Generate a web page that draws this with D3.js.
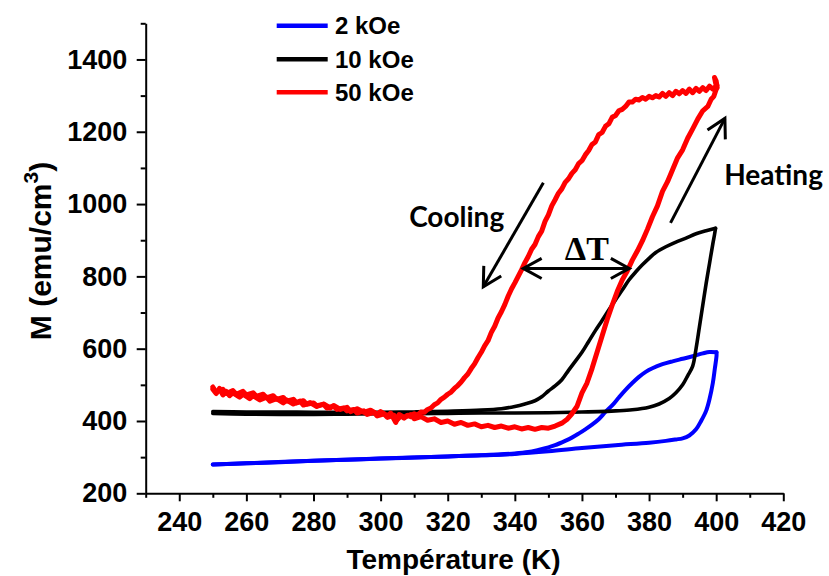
<!DOCTYPE html>
<html><head><meta charset="utf-8">
<script src="https://cdn.jsdelivr.net/npm/d3@7"></script>
<style>
html,body{margin:0;padding:0;background:#fff;}
svg{display:block;}
</style></head>
<body>
<svg id="c" width="829" height="576"></svg>
<script>
// ---- data (T in K, M in emu/cm3) ----
const xTicks = [240,260,280,300,320,340,360,380,400,420];
const xMinor = [230,250,270,290,310,330,350,370,390,410];
const yTicks = [200,400,600,800,1000,1200,1400];
const yMinor = [300,500,700,900,1100,1300,1500];
const seriesNames = ["2 kOe","10 kOe","50 kOe"];
const seriesColors = ["#0000ff","#000000","#ff0000"];

const blueHeat = [[250,280],[260,283],[270,286],[280,290],[290,293],[300,296],[310,299],[320,302],[330,305],[340,309],[350,316],[360,325],[370,333],[380,340],[385,345],[388,349],[390,352],[392,360],[394,377],[395.5,400],[397,428],[398,460],[399,505],[399.6,545],[400.1,580],[400.1,590]];
const blueCool = [[400.1,590],[398,591],[396,587],[393,579],[390,572],[387,565],[384,557],[381,546],[379,536],[377,522],[375,505],[373,486],[371,465],[369,443],[367,425],[365,405],[363,390],[361,377],[359,365],[357,354],[355,345],[352,333],[350,327],[347,320],[344,314],[340,310],[330,305],[320,302],[310,299],[300,296],[280,290],[260,283],[250,280]];

const blackHeat = [[250,421],[260,419],[270,418],[280,418],[290,419],[300,420],[310,420],[320,421],[330,422],[340,422],[350,423],[360,425],[365,426],[370,428],[375,431],[380,438],[383,447],[386,462],[388,478],[390,500],[391.5,525],[393,552],[394,600],[395,660],[396,720],[397,780],[398,835],[399,890],[399.5,915],[399.8,933]];
const blackCool = [[399.8,933],[397,926],[394,918],[391,906],[388,895],[385,882],[382,866],[380,850],[378,832],[376,812],[374,790],[372,762],[370,735],[368,707],[366,678],[364,650],[362,620],[360,590],[358,565],[356,540],[354,514],[352,497],[350,483],[348,467],[346,456],[343,447],[340,440],[336,434],[330,430],[320,427],[310,425],[300,424],[290,424],[280,424],[270,425],[260,425],[250,426]];

const redHeat = [[250,488],[251,476],[252,490],[253,472],[254,482],[255,470],[256,478],[258,466],[259,474],[261,462],[262,470],[264,458],[266,466],[267,455],[269,462],[271,450],[272,458],[274,447],[276,455],[277,444],[279,451],[281,440],[283,447],[285,436],[286,443],[288,432],[290,438],[291,426],[293,434],[295,424],[297,430],[299,419],[300,426],[302,414],[303,422],[304.5,396],[305.5,418],[307,410],[309,418],[310,406],[312,412],[314,402],[316,406],[318,396],[320,400],[322,391],[324,396],[326,388],[328,392],[330,384],[332,388],[334,382],[336,386],[338,380],[340,384],[342,378],[344,382],[346,377],[348,382],[350,380],[352,386],[354,394],[355.5,404],[357,420],[358.5,440],[360,478],[361.5,505],[363,545],[364.5,590],[366,635],[367.5,680],[369,720],[370.5,758],[372,790],[373.5,815],[375,845],[376.5,870],[378,898],[379.5,930],[381,965],[382.5,995],[384,1035],[385.5,1062],[387,1095],[388.5,1128],[390,1150],[391.5,1182],[393,1208],[394.5,1235],[396,1258],[397.5,1270],[398.5,1290],[399.3,1298],[399.9,1315],[400.3,1322],[399.8,1336],[399.5,1350],[400,1340],[400.2,1328]];
const redCool = [[400.2,1328],[399,1318],[398,1326],[397,1314],[396,1322],[395,1312],[394,1320],[393,1308],[392,1318],[391,1306],[390,1314],[389,1305],[388,1312],[387,1300],[386,1308],[385,1298],[384,1306],[383,1296],[382,1300],[381,1294],[380,1298],[379,1290],[378,1295],[377,1288],[376,1290],[375,1282],[374,1282],[373,1270],[372,1262],[371,1258],[370,1245],[369,1240],[368,1222],[367,1215],[366,1198],[365,1192],[364,1172],[363,1165],[362,1148],[361,1136],[360,1120],[359,1112],[358,1095],[357,1085],[356,1070],[355,1060],[354,1042],[353,1030],[352,1012],[351,995],[350,970],[349,952],[348,925],[347,910],[346,888],[345,875],[344,855],[343,838],[342,818],[341,800],[340,782],[339,765],[338,745],[337,722],[336,702],[335,685],[334,662],[333,645],[332,622],[331,608],[330,590],[329,575],[328,558],[327,545],[326,530],[325,520],[324,508],[323,498],[322,490],[321,480],[320,474],[319,466],[318,460],[317,450],[316,445],[315,436],[314,432],[313,424],[312,425],[311,416],[310,420],[309,412],[308,416],[307,408],[306,414],[305,404],[304,416],[302,410],[301,420],[299,414],[298,424],[296,418],[295,428],[293,422],[292,432],[290,428],[289,436],[287,432],[286,441],[284,436],[283,446],[281,442],[280,450],[278,446],[277,456],[275,450],[274,460],[272,455],[271,465],[269,460],[268,470],[266,464],[265,474],[263,468],[262,478],[260,472],[259,482],[257,474],[256,484],[254,476],[253,488],[251,480],[250,494]];

// annotation anchors in data coordinates
const coolArrow = [[348.5,1059],[330.6,771]];
const heatArrow = [[386.4,948],[402.6,1237]];
const deltaArrow = [[342.5,822],[374.1,822]];
const labels = [
  {text:"Cooling", T:308.5, M:937, size:28},
  {text:"Heating", T:402.4, M:1052, size:28}
];
const deltaLabel = {text:"\u0394T", T:354.9, M:845};

// ---- drawing ----
const svg = d3.select("#c");
const x = d3.scaleLinear().domain([230,420]).range([145.7,783.3]);
const y = d3.scaleLinear().domain([200,1500]).range([493.3,23.3]);
const FONT = "'Liberation Sans', Arial, sans-serif";

const smooth = d3.line().x(d=>x(d[0])).y(d=>y(d[1])).curve(d3.curveCatmullRom.alpha(0.5));
const raw = d3.line().x(d=>x(d[0])).y(d=>y(d[1]));

function drawSeries(data,color,width,gen){
  svg.append("path").datum(data).attr("d",gen)
    .attr("fill","none").attr("stroke",color).attr("stroke-width",width)
    .attr("stroke-linejoin","round").attr("stroke-linecap","round");
}
drawSeries(blueHeat,seriesColors[0],4,smooth);
drawSeries(blueCool,seriesColors[0],4,smooth);
drawSeries(blackHeat,seriesColors[1],3.6,smooth);
drawSeries(blackCool,seriesColors[1],3.6,smooth);
drawSeries(redHeat,seriesColors[2],5,raw);
drawSeries(redCool,seriesColors[2],5,raw);

// axes
const gx = svg.append("g").attr("transform",`translate(0,${y(200)})`);
gx.call(d3.axisBottom(x).tickValues(xTicks).tickSize(8).tickSizeOuter(0).tickPadding(10.7).tickFormat(d3.format("d")));
const gxm = svg.append("g").attr("transform",`translate(0,${y(200)})`);
gxm.call(d3.axisBottom(x).tickValues(xMinor).tickSize(4.5).tickFormat(""));
gxm.select(".domain").remove();

const gy = svg.append("g").attr("transform",`translate(${x(230)},0)`);
gy.call(d3.axisLeft(y).tickValues(yTicks).tickSize(9).tickSizeOuter(0).tickPadding(9.4).tickFormat(d3.format("d")));
const gym = svg.append("g").attr("transform",`translate(${x(230)},0)`);
gym.call(d3.axisLeft(y).tickValues(yMinor).tickSize(5).tickFormat(""));
gym.select(".domain").remove();

svg.selectAll(".domain").attr("stroke","#000").attr("stroke-width",2);
svg.selectAll(".tick line").attr("stroke","#000").attr("stroke-width",2);
svg.selectAll(".tick text").attr("font-family",FONT).attr("font-weight","bold").attr("font-size",27).attr("fill","#000");

// axis titles
svg.append("text").attr("x",453.5).attr("y",569).attr("text-anchor","middle")
  .attr("font-family",FONT).attr("font-weight","bold").attr("font-size",28).text("Température (K)");
const yt = svg.append("text").attr("transform","translate(51,251) rotate(-90)").attr("text-anchor","middle")
  .attr("font-family",FONT).attr("font-weight","bold").attr("font-size",30);
yt.append("tspan").text("M (emu/cm");
yt.append("tspan").attr("font-size",21).attr("dy",-13).text("3");
yt.append("tspan").attr("dy",13).text(")");

// legend
const legendY = [25.7,59.3,92.3];
seriesNames.forEach((n,i)=>{
  svg.append("line").attr("x1",276.7).attr("x2",327.7).attr("y1",legendY[i]).attr("y2",legendY[i])
    .attr("stroke",seriesColors[i]).attr("stroke-width",4.5);
  svg.append("text").attr("x",335).attr("y",legendY[i]+8.5)
    .attr("font-family",FONT).attr("font-weight","bold").attr("font-size",24).text(n);
});

// annotations
function arrow(p0,p1,heads){
  const a=[x(p0[0]),y(p0[1])], b=[x(p1[0]),y(p1[1])];
  svg.append("line").attr("x1",a[0]).attr("y1",a[1]).attr("x2",b[0]).attr("y2",b[1])
    .attr("stroke","#000").attr("stroke-width",3);
  const head=(tip,from)=>{
    const ang=Math.atan2(from[1]-tip[1],from[0]-tip[0]);
    const L=21, s=0.5;
    const pts=[[tip[0]+L*Math.cos(ang+s),tip[1]+L*Math.sin(ang+s)],tip,[tip[0]+L*Math.cos(ang-s),tip[1]+L*Math.sin(ang-s)]];
    svg.append("path").attr("d",d3.line()(pts)).attr("fill","none").attr("stroke","#000")
      .attr("stroke-width",3).attr("stroke-linejoin","miter");
  };
  head(b,a);
  if(heads===2) head(a,b);
}
arrow(coolArrow[0],coolArrow[1],1);
arrow(heatArrow[0],heatArrow[1],1);
arrow(deltaArrow[0],deltaArrow[1],2);

labels.forEach(l=>{
  svg.append("text").attr("x",x(l.T)).attr("y",y(l.M)).attr("font-family","Lato, 'Open Sans', sans-serif")
    .attr("font-weight","bold").attr("font-size",l.size).text(l.text);
});
svg.append("text").attr("x",x(deltaLabel.T)).attr("y",y(deltaLabel.M))
  .attr("font-family","'Liberation Serif', 'Times New Roman', serif").attr("font-weight","bold")
  .attr("font-size",34).text(deltaLabel.text);
</script>
</body></html>
